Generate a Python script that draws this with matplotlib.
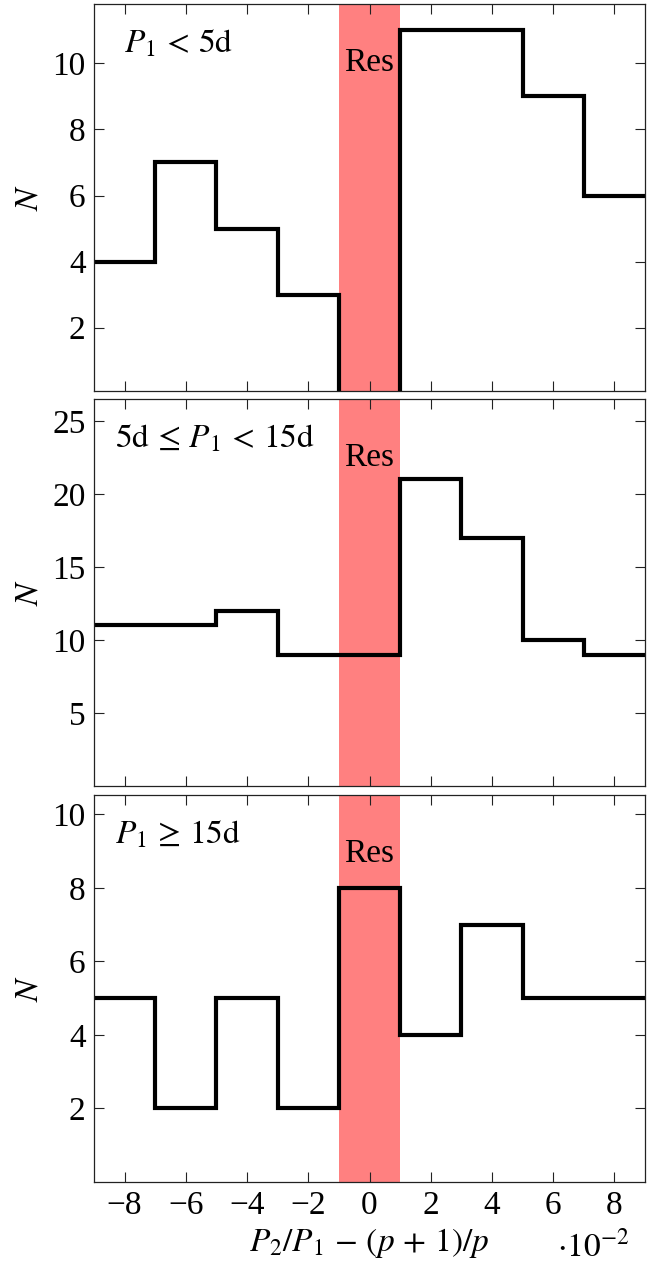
import matplotlib
matplotlib.use("Agg")
import matplotlib.pyplot as plt
import numpy as np

# Data
bin_edges = [-9, -7, -5, -3, -1, 1, 3, 5, 7, 9]
counts_short = [4, 7, 5, 3, 0, 11, 11, 9, 6]
counts_mid = [11, 11, 12, 9, 9, 21, 17, 10, 9]
counts_long = [5, 2, 5, 2, 8, 4, 7, 5, 5]
panel_labels = [r"$P_1\,<\,5\mathrm{d}$", r"$5\mathrm{d}\,\leq\,P_1\,<\,15\mathrm{d}$", r"$P_1\,\geq\,15\mathrm{d}$"]
x_ticks = [-8, -6, -4, -2, 0, 2, 4, 6, 8]
y_ticks_short = [2, 4, 6, 8, 10]
y_ticks_mid = [5, 10, 15, 20, 25]
y_ticks_long = [2, 4, 6, 8, 10]
res_band = [-1, 1]

plt.rcParams['font.family'] = ['Liberation Serif', 'DejaVu Serif']
plt.rcParams['mathtext.fontset'] = 'stix'
plt.rcParams['axes.unicode_minus'] = True

fig = plt.figure(figsize=(6.6, 12.61), dpi=100)
W, H = 660, 1261
left, right = 94 / W, 645 / W
panels_px = [(4, 391), (399, 786), (795, 1182)]
ylims = [(0.08, 11.8), (0, 26.5), (0, 10.53)]
counts_all = [counts_short, counts_mid, counts_long]
yticks_all = [y_ticks_short, y_ticks_mid, y_ticks_long]
label_x = [0.055, 0.038, 0.038]

fs = 24
for i, ((t, b), yl, cnt, yt) in enumerate(zip(panels_px, ylims, counts_all, yticks_all)):
    ax = fig.add_axes([left, 1 - b / H, right - left, (b - t) / H])
    ax.axvspan(res_band[0], res_band[1], color='#FF8080', lw=0, zorder=1)
    ax.stairs(cnt, bin_edges, baseline=None, color='black', lw=3.0, zorder=3)
    ax.set_xlim(-9, 9)
    ax.set_ylim(*yl)
    ax.set_xticks(x_ticks)
    ax.set_yticks(yt)
    ax.tick_params(direction='in', length=7, width=0.8, top=True, right=True,
                   labelsize=fs, pad=6, color='#222222')
    for s in ax.spines.values():
        s.set_linewidth(0.9)
        s.set_color('#222222')
        s.set_zorder(4)
    if i < 2:
        ax.tick_params(labelbottom=False)
    else:
        ax.set_xlabel(r"$P_2/P_1\,-\,(p\,+\,1)/p$", fontsize=fs, labelpad=4)
    ax.set_ylabel(r"$N$", fontsize=fs)
    ax.yaxis.set_label_coords(-0.09, 0.5)
    ax.text(0.0, 0.847, "Res", fontsize=fs, ha='center', va='center',
            transform=ax.get_xaxis_transform(), zorder=5)
    ax.text(label_x[i], 0.897, panel_labels[i], fontsize=fs, ha='left', va='center',
            transform=ax.transAxes, zorder=5)

fig.text(557 / W, 1 - 1247 / H, r"$\cdot 10^{-2}$", fontsize=fs, ha='left', va='center')

fig.savefig("out.png", dpi=100)
